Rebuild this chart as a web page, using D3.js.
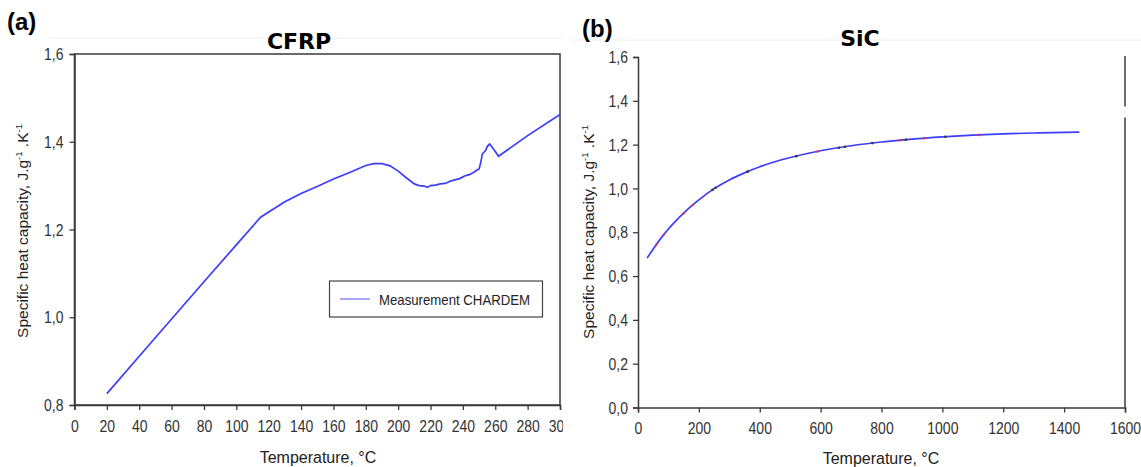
<!DOCTYPE html>
<html><head><meta charset="utf-8">
<script src="https://cdn.jsdelivr.net/npm/d3@7"></script>
<style>
body{margin:0;background:#fff;}
svg{display:block;font-family:"Liberation Sans",Arial,sans-serif;}
</style></head>
<body>
<svg id="chart" width="1141" height="467"></svg>
<script>
// ---- data ----
const cfrpTemp = [20,40,60,80,100,115,120,130,140,150,160,170,180,185,190,195,200,205,210,213,216,218,220,223,226,229,232,235,238,241,244,247,249,250,251,252,253,254,255,256.5,258,260,262,280,300];
const cfrpCp   = [0.826,0.911,0.996,1.081,1.165,1.228,1.240,1.263,1.282,1.298,1.315,1.330,1.346,1.350,1.350,1.345,1.333,1.318,1.304,1.300,1.299,1.296,1.300,1.301,1.304,1.305,1.310,1.313,1.316,1.322,1.325,1.331,1.336,1.338,1.352,1.372,1.376,1.380,1.389,1.395,1.388,1.378,1.367,1.414,1.462];
const sicTemp = [30,50,75,100,125,150,175,200,250,300,350,400,450,500,600,700,800,900,1000,1100,1200,1300,1400,1450];
const sicCp   = [0.682,0.724,0.772,0.815,0.853,0.887,0.919,0.948,0.999,1.039,1.071,1.099,1.122,1.141,1.172,1.195,1.212,1.225,1.235,1.243,1.249,1.253,1.256,1.257];
const sicBlackDotsT = [245,255,360,520,660,680,770,880,1010];
const sicRedDotsT = [60,85,150,180,590,860,940,1120];
const cfrpXTicks = d3.range(0,301,20);
const cfrpYTicks = [0.8,1.0,1.2,1.4,1.6];
const sicXTicks = d3.range(0,1601,200);
const sicYTicks = [0,0.2,0.4,0.6,0.8,1.0,1.2,1.4,1.6];
const yLabelMain = "Specific heat capacity, J.g";
const xLabel = "Temperature, °C";
const legendLabel = "Measurement CHARDEM";

const svg = d3.select("#chart");
const axisColor = "#3a3a3a";
const curveColor = "#3c3cff";
const comma = v => d3.format(".1f")(v).replace(".", ",");
const TICK_FS = 14, TICK_SY = 1.12;

function interpAt(ts, vs, t){
  for(let i=0;i<ts.length-1;i++){ if(t>=ts[i] && t<=ts[i+1]){ const f=(t-ts[i])/(ts[i+1]-ts[i]); return vs[i]+f*(vs[i+1]-vs[i]); } }
  return vs[vs.length-1];
}

function yLabel(g, x, y){
  const t = g.append("text").attr("transform",`translate(${x},${y}) rotate(-90)`)
    .attr("text-anchor","middle").attr("font-size",15.5).attr("fill","#222");
  t.append("tspan").text(yLabelMain);
  t.append("tspan").attr("dy",-6).attr("font-size",9.5).text("-1");
  t.append("tspan").attr("dy",6).text(" .K");
  t.append("tspan").attr("dy",-6).attr("font-size",9.5).text("-1");
}

function styleAxis(a, orient, off){
  a.selectAll("path").attr("stroke",axisColor).attr("stroke-width",1.5);
  a.selectAll("line").attr("stroke",axisColor).attr("stroke-width",1.3);
  const t = a.selectAll("text").attr("fill","#333").attr("font-size",TICK_FS)
    .attr("font-family","Liberation Sans, Arial, sans-serif").attr("dy",null);
  if(orient==="bottom"){
    t.attr("y",0).attr("transform",`translate(0,${off}) scale(1,${TICK_SY})`);
  } else {
    t.attr("x",0).attr("transform",`translate(${-off},5.6) scale(1,${TICK_SY})`);
  }
}

// ---- Panel (a) CFRP ----
const A = {l:74.5, r:560, t:54, b:405};
svg.append("defs").append("clipPath").attr("id","clipA").append("rect").attr("x",0).attr("y",0).attr("width",563).attr("height",467);
const gA = svg.append("g").attr("clip-path","url(#clipA)");
const xA = d3.scaleLinear().domain([0,300]).range([A.l,A.r]);
const yA = d3.scaleLinear().domain([0.8,1.6]).range([A.b,A.t]);

gA.append("line").attr("x1",48).attr("x2",565).attr("y1",38).attr("y2",38).attr("stroke","#f0f0f0");
gA.append("rect").attr("x",A.l).attr("y",A.t).attr("width",A.r-A.l).attr("height",A.b-A.t)
  .attr("fill","none").attr("stroke",axisColor).attr("stroke-width",1.5);
const axA = gA.append("g").attr("transform",`translate(0,${A.b})`)
  .call(d3.axisBottom(xA).tickValues(cfrpXTicks).tickSize(5).tickPadding(7).tickFormat(d3.format("d")));
styleAxis(axA,"bottom",26.7);
const ayA = gA.append("g").attr("transform",`translate(${A.l},0)`)
  .call(d3.axisLeft(yA).tickValues(cfrpYTicks).tickSize(5).tickPadding(3).tickFormat(comma));
styleAxis(ayA,"left",11);

gA.append("path").datum(cfrpTemp.map((t,i)=>[t,cfrpCp[i]]))
  .attr("d", d3.line().x(d=>xA(d[0])).y(d=>yA(d[1])))
  .attr("fill","none").attr("stroke",curveColor).attr("stroke-width",1.7);

// legend
const lg = gA.append("g");
lg.append("rect").attr("x",329.5).attr("y",281).attr("width",213).attr("height",36)
  .attr("fill","#fff").attr("stroke","#444").attr("stroke-width",1.2);
lg.append("line").attr("x1",340).attr("x2",370).attr("y1",299).attr("y2",299).attr("stroke","#8080ff").attr("stroke-width",1.4);
lg.append("text").attr("transform","translate(379,304.7) scale(1,1.15)").attr("font-size",13.2).attr("fill","#222").text(legendLabel);

gA.append("text").attr("x",299).attr("y",49).attr("text-anchor","middle")
  .attr("font-family","DejaVu Sans, Verdana, sans-serif").attr("font-weight","bold").attr("font-size",22).attr("fill","#000").text("CFRP");
svg.append("text").attr("x",7).attr("y",30).attr("font-family","Liberation Sans, Arial, sans-serif")
  .attr("font-weight","bold").attr("font-size",24).attr("fill","#000").text("(a)");
yLabel(svg, 28, 231);
svg.append("text").attr("x",318).attr("y",463).attr("text-anchor","middle").attr("font-size",16).attr("fill","#222").text(xLabel);

// ---- Panel (b) SiC ----
const B = {l:638, r:1125, t:57, b:407.5};
const gB = svg.append("g");
const xB = d3.scaleLinear().domain([0,1600]).range([B.l,B.r]);
const yB = d3.scaleLinear().domain([0,1.6]).range([B.b,B.t]);

gB.append("line").attr("x1",572).attr("x2",1141).attr("y1",40).attr("y2",40).attr("stroke","#f0f0f0");
// right border with a gap
gB.append("line").attr("x1",B.r).attr("x2",B.r).attr("y1",B.t-1).attr("y2",106.5).attr("stroke",axisColor).attr("stroke-width",1.5);
gB.append("line").attr("x1",B.r).attr("x2",B.r).attr("y1",117.5).attr("y2",B.b).attr("stroke",axisColor).attr("stroke-width",1.5);
const axB = gB.append("g").attr("transform",`translate(0,${B.b})`)
  .call(d3.axisBottom(xB).tickValues(sicXTicks).tickSize(5).tickPadding(7).tickFormat(d3.format("d")));
styleAxis(axB,"bottom",26.5);
const ayB = gB.append("g").attr("transform",`translate(${B.l},0)`)
  .call(d3.axisLeft(yB).tickValues(sicYTicks).tickSize(5).tickPadding(3).tickFormat(comma));
styleAxis(ayB,"left",10);

gB.append("path").datum(sicTemp.map((t,i)=>[t,sicCp[i]]))
  .attr("d", d3.line().curve(d3.curveMonotoneX).x(d=>xB(d[0])).y(d=>yB(d[1])))
  .attr("fill","none").attr("stroke",curveColor).attr("stroke-width",1.7);
gB.selectAll("circle.bk").data(sicBlackDotsT).join("circle").attr("class","bk")
  .attr("cx",t=>xB(t)).attr("cy",t=>yB(interpAt(sicTemp,sicCp,t))).attr("r",1.3).attr("fill","#333");
gB.selectAll("circle.rd").data(sicRedDotsT).join("circle").attr("class","rd")
  .attr("cx",t=>xB(t)).attr("cy",t=>yB(interpAt(sicTemp,sicCp,t))).attr("r",1.2).attr("fill","#e03050");

gB.append("text").attr("x",860).attr("y",46).attr("text-anchor","middle")
  .attr("font-family","DejaVu Sans, Verdana, sans-serif").attr("font-weight","bold").attr("font-size",22).attr("fill","#000").text("SiC");
svg.append("text").attr("x",582).attr("y",37).attr("font-family","Liberation Sans, Arial, sans-serif")
  .attr("font-weight","bold").attr("font-size",24).attr("fill","#000").text("(b)");
yLabel(svg, 593.5, 232);
svg.append("text").attr("x",881).attr("y",464).attr("text-anchor","middle").attr("font-size",16).attr("fill","#222").text(xLabel);
</script>
</body></html>
